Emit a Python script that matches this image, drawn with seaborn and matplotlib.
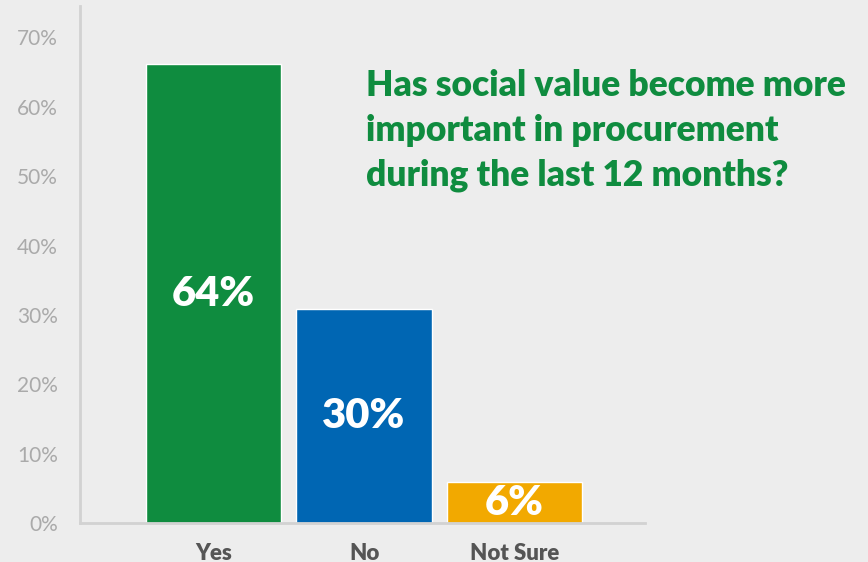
import matplotlib
matplotlib.use("Agg")
import matplotlib.pyplot as plt
import seaborn as sns
import pandas as pd

categories = ["Yes", "No", "Not Sure"]
values = [66.2, 30.9, 5.9]
value_labels = ["64%", "30%", "6%"]
colors = ["#0f8c3f", "#0066b3", "#f2a900"]
yticks = [0, 10, 20, 30, 40, 50, 60, 70]
ytick_labels = ["0%", "10%", "20%", "30%", "40%", "50%", "60%", "70%"]
title = "Has social value become more\nimportant in procurement\nduring the last 12 months?"

sns.set_style("white")
plt.rcParams["font.family"] = ["Lato", "DejaVu Sans"]

bg = "#ededed"
fig = plt.figure(figsize=(8.68, 5.62), dpi=100, facecolor=bg)
ax = fig.add_axes([0.0922, 0.069, 0.651, 0.920])
ax.set_facecolor(bg)

df = pd.DataFrame({"cat": categories, "val": values})
sns.barplot(data=df, x="cat", y="val", hue="cat", palette=colors,
            width=0.9, saturation=1, legend=False, ax=ax)

for cont, lab in zip(ax.containers, value_labels):
    ax.bar_label(cont, labels=[lab], label_type="center", color="white",
                 fontsize=30, fontweight="heavy")

ax.set_xlim(-0.89, 2.87)
ax.set_ylim(0, 74.5)
ax.set_yticks(yticks)
ax.set_yticklabels(ytick_labels)
ax.set_xlabel("")
ax.set_ylabel("")
ax.tick_params(axis="y", length=0, pad=16, labelsize=15, labelcolor="#aaaaaa")
ax.tick_params(axis="x", length=0, pad=14, labelsize=16, labelcolor="#555555")
for t in ax.get_xticklabels():
    t.set_fontweight("heavy")

for s in ["top", "right"]:
    ax.spines[s].set_visible(False)
for s in ["left", "bottom"]:
    ax.spines[s].set_color("#d2d2d2")
    ax.spines[s].set_linewidth(2)

fig.text(0.4217, 0.877, title, color="#0f8c3f", fontsize=25.5, fontweight="heavy",
         va="top", ha="left", linespacing=1.43)

fig.savefig("out.png", dpi=100, facecolor=bg)
